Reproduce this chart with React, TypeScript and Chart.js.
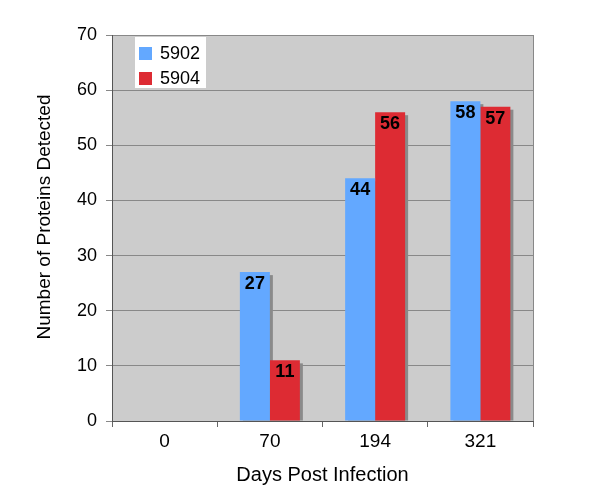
import React, { useEffect, useRef } from "react";
import { Chart, registerables } from "chart.js";
Chart.register(...registerables);

const categories = ["0", "70", "194", "321"];
const series5902 = [0, 27, 44, 58];
const series5904 = [0, 11, 56, 57];
const seriesNames = ["5902", "5904"];
const seriesColors = ["#63a8ff", "#dd2b33"];
const yTicks = [0, 10, 20, 30, 40, 50, 60, 70];
const xTitle = "Days Post Infection";
const yTitle = "Number of Proteins Detected";

const FONT = "'Liberation Sans', Arial, Helvetica, sans-serif";

const bgPlugin = {
  id: "bgPlugin",
  beforeDraw(chart: any) {
    const { ctx, chartArea: a } = chart;
    ctx.save();
    ctx.fillStyle = "#cccccc";
    ctx.fillRect(a.left, a.top, a.right - a.left, a.bottom - a.top);
    ctx.restore();
  },
  beforeDatasetsDraw(chart: any) {
    const { ctx } = chart;
    ctx.save();
    ctx.fillStyle = "#8a8a8a";
    chart.data.datasets.forEach((ds: any, i: number) => {
      const meta = chart.getDatasetMeta(i);
      meta.data.forEach((bar: any, j: number) => {
        if (!ds.data[j]) return;
        const p = bar.getProps(["x", "y", "base", "width"], true);
        ctx.fillRect(p.x - p.width / 2 + 3, p.y + 3, p.width, p.base - p.y - 3);
      });
    });
    ctx.restore();
  },
  afterDatasetsDraw(chart: any) {
    const { ctx, chartArea: a } = chart;
    ctx.save();
    ctx.fillStyle = "#000";
    ctx.font = `bold 18px ${FONT}`;
    ctx.textAlign = "center";
    ctx.textBaseline = "top";
    chart.data.datasets.forEach((ds: any, i: number) => {
      const meta = chart.getDatasetMeta(i);
      meta.data.forEach((bar: any, j: number) => {
        if (!ds.data[j]) return;
        const p = bar.getProps(["x", "y"], true);
        ctx.fillText(String(ds.data[j]), p.x, p.y + 3);
      });
    });
    // right border
    ctx.strokeStyle = "#888888";
    ctx.lineWidth = 1;
    ctx.beginPath();
    ctx.moveTo(Math.round(a.right) + 0.5, a.top);
    ctx.lineTo(Math.round(a.right) + 0.5, a.bottom);
    ctx.stroke();
    // legend
    const lx = a.left + 23;
    const ly = a.top + 2;
    ctx.fillStyle = "#ffffff";
    ctx.fillRect(lx, ly, 71, 51);
    ctx.font = `18px ${FONT}`;
    ctx.textAlign = "left";
    ctx.textBaseline = "middle";
    chart.data.datasets.forEach((ds: any, i: number) => {
      const cy = ly + 16 + i * 25;
      ctx.fillStyle = ds.backgroundColor;
      ctx.fillRect(lx + 4, cy - 6, 13, 13);
      ctx.fillStyle = "#000";
      ctx.fillText(ds.label, lx + 25, cy + 1);
    });
    // y title
    ctx.translate(45, 217);
    ctx.rotate(-Math.PI / 2);
    ctx.textAlign = "center";
    ctx.font = `19px ${FONT}`;
    ctx.fillText(yTitle, 0, 0);
    ctx.restore();
  },
};

export default function App() {
  const ref = useRef<HTMLCanvasElement>(null);
  useEffect(() => {
    document.body.style.margin = "0";
    const chart = new Chart(ref.current!, {
      type: "bar",
      data: {
        labels: categories,
        datasets: [
          { label: seriesNames[0], data: series5902, backgroundColor: seriesColors[0], barPercentage: 1, categoryPercentage: 0.57 },
          { label: seriesNames[1], data: series5904, backgroundColor: seriesColors[1], barPercentage: 1, categoryPercentage: 0.57 },
        ],
      },
      options: {
        animation: false,
        responsive: false,
        layout: { padding: { left: 0, top: 35, right: 67, bottom: 0 } },
        plugins: { legend: { display: false }, tooltip: { enabled: false } },
        scales: {
          x: {
            afterFit: (s: any) => { s.height = 79; },
            grid: { drawOnChartArea: false, offset: true, tickLength: 6, color: "#666666" },
            border: { color: "#555555" },
            ticks: { color: "#000", font: { family: FONT, size: 19 }, padding: 3 },
            title: { display: true, text: xTitle, color: "#000", font: { family: FONT, size: 20 }, padding: { top: 0, bottom: 13 } },
          },
          y: {
            min: 0,
            max: 70,
            afterFit: (s: any) => { s.width = 112; },
            afterBuildTicks: (s: any) => { s.ticks = yTicks.map((v) => ({ value: v })); },
            grid: { color: "#888888", tickLength: 6 },
            border: { color: "#555555" },
            ticks: { color: "#000", font: { family: FONT, size: 18 }, padding: 9 },
            title: { display: false },
          },
        },
      },
      plugins: [bgPlugin],
    });
    return () => chart.destroy();
  }, []);
  return (
    <div style={{ width: 600, height: 500, background: "#fff" }}>
      <canvas ref={ref} width={600} height={500} />
    </div>
  );
}
